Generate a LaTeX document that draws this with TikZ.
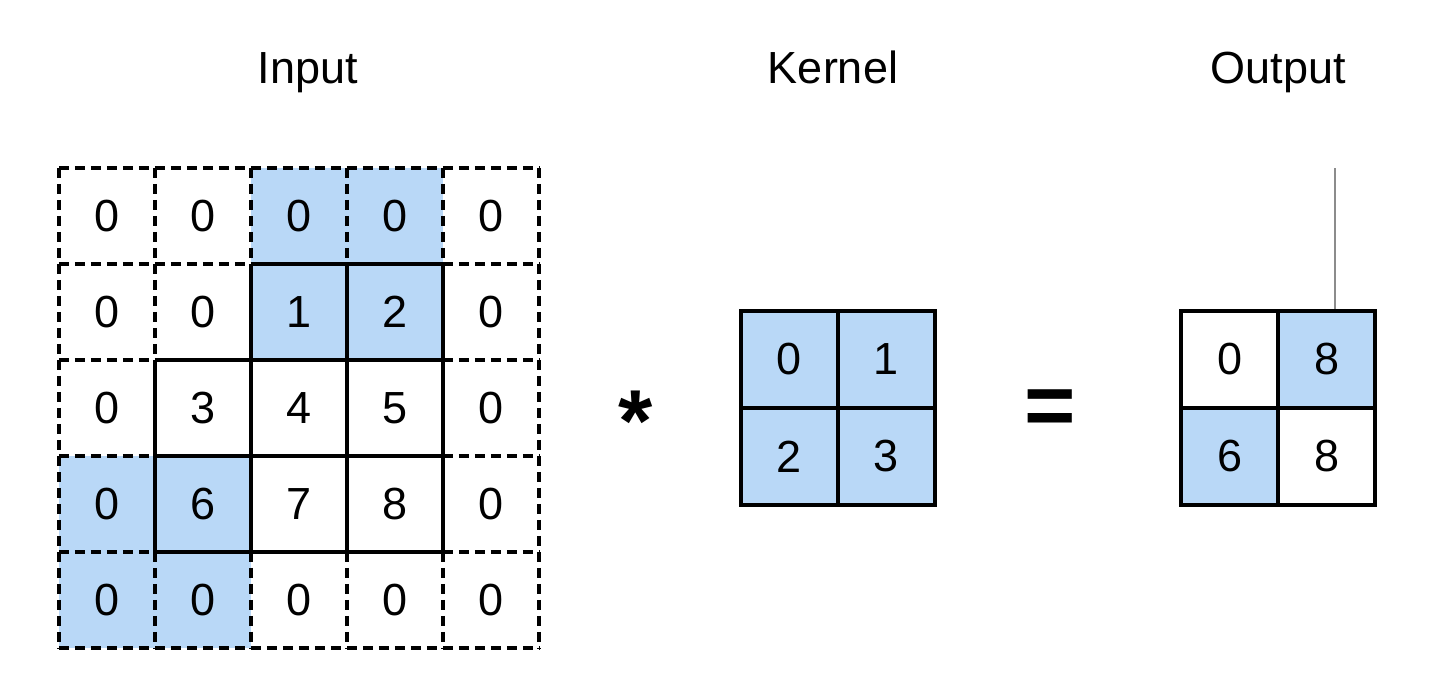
\documentclass[tikz,border=0pt]{standalone}
\usepackage{fontspec}
\setmainfont{Liberation Sans}
\definecolor{cellblue}{RGB}{185,216,247}
\definecolor{tickgray}{RGB}{140,140,140}
\begin{document}
\begin{tikzpicture}[x=1pt,y=-1pt,
  cell/.style={minimum size=96pt, inner sep=0pt, font=\fontsize{45}{54}\selectfont},
  bluecell/.style={cell, fill=cellblue},
  kcell/.style={cell, minimum size=97pt, draw, line width=4.5pt},
  kblue/.style={kcell, fill=cellblue},
  padline/.style={line width=4pt, dash pattern=on 10pt off 6pt},
  solidline/.style={line width=4.5pt, line cap=square},
  title/.style={font=\fontsize{45}{54}\selectfont, anchor=base},
  op/.style={font=\bfseries\fontsize{88}{100}\selectfont, inner sep=0pt, anchor=base}]
\useasboundingbox (0,0) rectangle (1432,686);
% titles
\node[title] (tin) at (308,83) {Input};
\node[title] (tker) at (833,83) {Kernel};
\node[title] (tout) at (1278,83) {Output};
% input cells
\foreach \r/\c/\v/\s in {
  0/0/0/cell, 0/1/0/cell, 0/2/0/bluecell, 0/3/0/bluecell, 0/4/0/cell,
  1/0/0/cell, 1/1/0/cell, 1/2/1/bluecell, 1/3/2/bluecell, 1/4/0/cell,
  2/0/0/cell, 2/1/3/cell, 2/2/4/cell, 2/3/5/cell, 2/4/0/cell,
  3/0/0/bluecell, 3/1/6/bluecell, 3/2/7/cell, 3/3/8/cell, 3/4/0/cell,
  4/0/0/bluecell, 4/1/0/bluecell, 4/2/0/cell, 4/3/0/cell, 4/4/0/cell}
  \node[\s] (in-\r-\c) at ({107+96*\c},{216+96*\r}) {\v};
% dashed padding grid
\foreach \r in {0,...,4}
  \draw[padline] (in-\r-0.north west) -- (in-\r-4.north east);
\draw[padline] (in-4-0.south west) -- (in-4-4.south east);
\foreach \c in {0,...,4}
  \draw[padline] (in-0-\c.north west) -- (in-4-\c.south west);
\draw[padline] (in-0-4.north east) -- (in-4-4.south east);
% solid input lines
\draw[solidline] (in-1-2.north west) -- (in-1-3.north east);
\draw[solidline] (in-2-1.north west) -- (in-2-3.north east);
\draw[solidline] (in-3-1.north west) -- (in-3-3.north east);
\draw[solidline] (in-3-1.south west) -- (in-3-3.south east);
\draw[solidline] (in-2-1.north west) -- (in-3-1.south west);
\draw[solidline] (in-1-2.north west) -- (in-3-2.south west);
\draw[solidline] (in-1-3.north west) -- (in-3-3.south west);
\draw[solidline] (in-1-3.north east) -- (in-3-3.south east);
% operator
\node[op] (star) at (636,451) {*};
% kernel
\node[kblue] (k-0-0) at (789.5,359.5) {0};
\node[kblue] (k-0-1) at (886.5,359.5) {1};
\node[kblue] (k-1-0) at (789.5,456.5) {2};
\node[kblue] (k-1-1) at (886.5,456.5) {3};
% equals
\node[op] (eq) at (1050,435) {=};
% output
\node[kcell] (o-0-0) at (1229.5,359.5) {0};
\node[kblue] (o-0-1) at (1326.5,359.5) {8};
\node[kblue] (o-1-0) at (1229.5,456.5) {6};
\node[kcell] (o-1-1) at (1326.5,456.5) {8};
% thin marker line
\coordinate (tick) at (1335,168);
\draw[tickgray, line width=1.5pt] (tick) -- (tick |- o-0-1.north);
\end{tikzpicture}
\end{document}
